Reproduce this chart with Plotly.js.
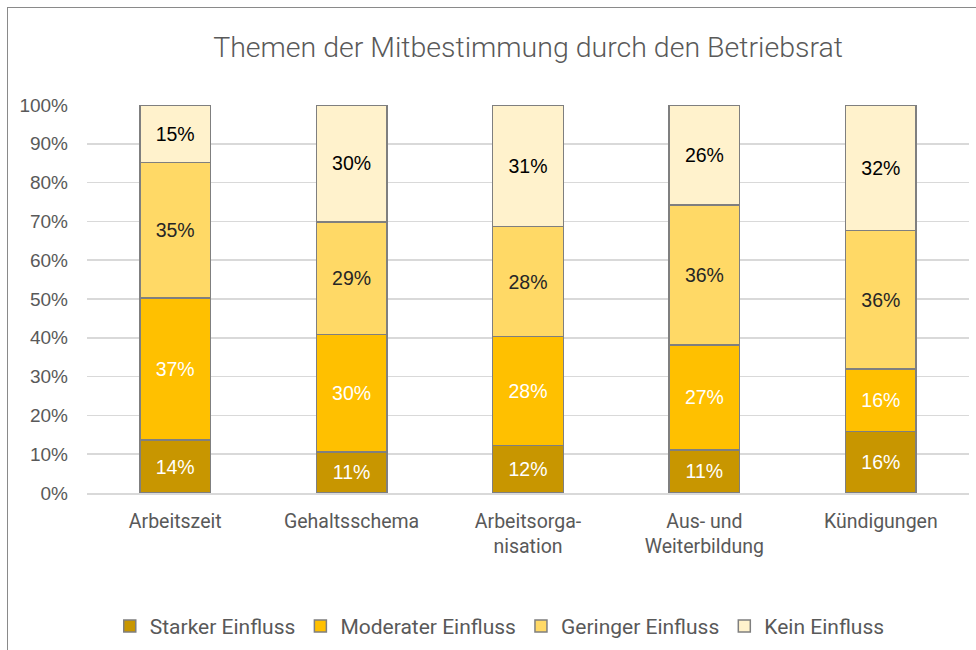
<!DOCTYPE html>
<html>
<head>
<meta charset="utf-8">
<script src="https://cdn.plot.ly/plotly-3.0.1.min.js"></script>
<style>
  html, body { margin: 0; padding: 0; background: #fff; }
  #chart { width: 976px; height: 650px; position: relative; }
  #frame { position: absolute; left: 7px; top: 7px; width: 1000px; height: 700px; border: 1.5px solid #8a8a8a; pointer-events: none; box-sizing: border-box; }
</style>
</head>
<body>
<div id="chart"></div>
<div id="frame"></div>
<script>
const categories = ["Arbeitszeit", "Gehaltsschema", "Arbeitsorga-<br>nisation", "Aus- und<br>Weiterbildung", "Kündigungen"];
const seriesNames = ["Starker Einfluss", "Moderater Einfluss", "Geringer Einfluss", "Kein Einfluss"];
const starker = [13.6, 10.6, 12.2, 11.1, 15.8];
const moderater = [36.6, 30.2, 28.1, 27.1, 16.1];
const geringer = [35.0, 29.1, 28.4, 36.0, 35.8];
const kein = [14.8, 30.1, 31.3, 25.8, 32.3];
const yTicks = [0, 10, 20, 30, 40, 50, 60, 70, 80, 90, 100];

const seriesValues = [starker, moderater, geringer, kein];
const colors = ["#C89600", "#FFC000", "#FFD966", "#FFF2CC"];
const labelColors = ["#ffffff", "#ffffff", "#262626", "#000000"];
const mainFont = "Roboto, Liberation Sans, sans-serif";
const numFont = "Liberation Sans, Arial, sans-serif";

const traces = seriesValues.map((vals, i) => ({
  type: "bar",
  name: seriesNames[i],
  x: categories,
  y: vals,
  texttemplate: "%{y:.0f}%",
  textposition: "inside",
  insidetextanchor: "middle",
  textangle: 0,
  constraintext: "none",
  textfont: { family: numFont, size: 19.5, color: labelColors[i] },
  marker: { color: colors[i], line: { color: "#7f7f7f", width: 1.5 } },
  hoverinfo: "skip"
}));

const layout = {
  width: 976,
  height: 650,
  barmode: "stack",
  bargap: 0.6,
  paper_bgcolor: "#ffffff",
  plot_bgcolor: "#ffffff",
  margin: { l: 87, r: 7, t: 105, b: 157, autoexpand: false },
  title: {
    text: "Themen der Mitbestimmung durch den Betriebsrat",
    font: { family: mainFont, size: 28.5, weight: 300, color: "#595959" },
    x: 0.541, xanchor: "center",
    y: 0.928, yanchor: "middle"
  },
  xaxis: {
    type: "category",
    automargin: false,
    showgrid: false,
    showline: true,
    linecolor: "#d9d9d9",
    linewidth: 1.5,
    ticks: "",
    ticklabelstandoff: 10,
    tickfont: { family: mainFont, size: 19.5, color: "#595959" },
    fixedrange: true
  },
  yaxis: {
    range: [0, 100],
    automargin: false,
    tickvals: yTicks,
    ticktext: yTicks.map(t => t + "%"),
    showgrid: true,
    gridcolor: "#d9d9d9",
    gridwidth: 1.5,
    zeroline: false,
    showline: false,
    ticks: "",
    ticklabelstandoff: 18,
    tickfont: { family: numFont, size: 19, color: "#595959" },
    fixedrange: true
  },
  showlegend: true,
  legend: {
    orientation: "h",
    x: 0.468, xanchor: "center",
    y: -0.344, yanchor: "middle",
    font: { family: mainFont, size: 21, color: "#595959" },
    traceorder: "normal"
  }
};

Plotly.newPlot("chart", traces, layout, { displayModeBar: false, staticPlot: true });
</script>
</body>
</html>
